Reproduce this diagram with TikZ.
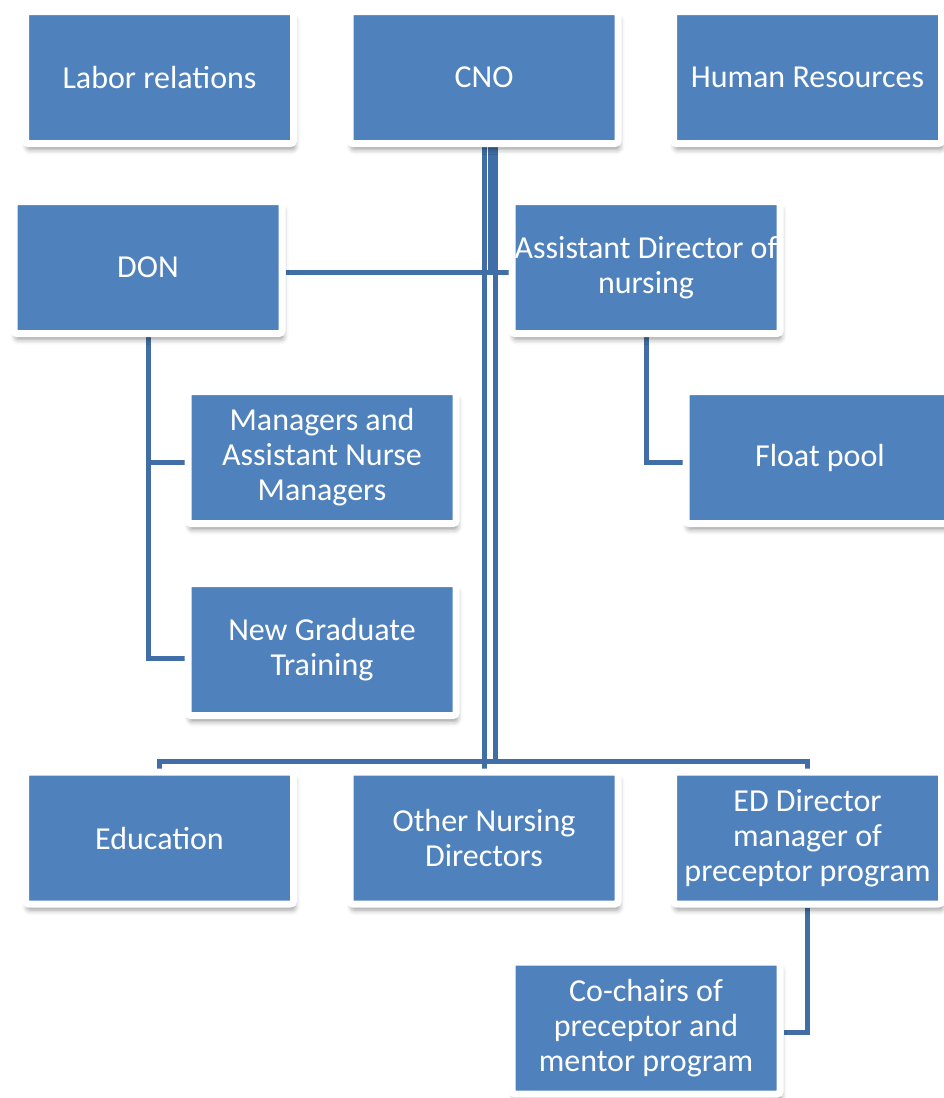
\documentclass[tikz,border=0pt]{standalone}
\usepackage{fontspec}
\setmainfont{Carlito}
\usetikzlibrary{shadows.blur,backgrounds,calc}
\definecolor{boxblue}{HTML}{4F81BD}
\definecolor{linkblue}{HTML}{416EA6}
\tikzset{
  orgbox/.style={fill=boxblue, draw=white, line width=7pt, rounded corners=3pt,
    minimum width=268pt, minimum height=132pt, inner sep=0pt, align=center,
    text=white, font=\fontsize{32}{35}\selectfont,
    blur shadow={shadow xshift=1.5pt, shadow yshift=-6pt, shadow blur radius=5pt, shadow opacity=40}},
  link/.style={draw=linkblue, line width=5pt}
}
\begin{document}
\begin{tikzpicture}[x=1pt,y=-1pt]
\useasboundingbox (0,0) rectangle (943,1098);
\node[orgbox] (lab) at (159.5,77.5) {Labor relations};
\node[orgbox] (cno) at (484,77.5) {CNO};
\node[orgbox] (hr) at (807.5,77.5) {Human Resources};
\node[orgbox] (don) at (148,267.5) {DON};
\node[orgbox] (adn) at (646,267.5) {Assistant Director of\\nursing};
\node[orgbox] (mgr) at (322,457.5) {Managers and\\Assistant Nurse\\Managers};
\node[orgbox] (flt) at (820,457.5) {Float pool};
\node[orgbox] (ngt) at (322,649.5) {New Graduate\\Training};
\node[orgbox] (edu) at (159.5,838) {Education};
\node[orgbox] (oth) at (484,838) {Other Nursing\\Directors};
\node[orgbox] (edd) at (807.5,838) {ED Director\\manager of\\preceptor program};
\node[orgbox] (coc) at (646,1028) {Co-chairs of\\preceptor and\\mentor program};
\coordinate (busL) at ($(edu.north)+(0,-7)$);
\coordinate (midL) at ($(don.east)+(0,4.5)$);
\begin{pgfonlayer}{background}
\draw[link] (cno.south) -- (oth.north);
\draw[link] ([xshift=6pt]cno.south) -- ([xshift=6pt]cno.south |- midL);
\draw[link] (midL) -- ([yshift=-4.5pt]adn.west);
\draw[link] ([xshift=11pt]cno.south) -- ([xshift=11pt]cno.south |- busL);
\draw[link] (edu.north) -- (busL) -| (edd.north);
\draw[link] (don.south) |- ([yshift=-5pt]mgr.west);
\draw[link] (don.south) |- ([yshift=-9pt]ngt.west);
\draw[link] (adn.south) |- ([yshift=-4.5pt]flt.west);
\draw[link] (edd.south) |- ([yshift=-4pt]coc.east);
\end{pgfonlayer}
\end{tikzpicture}
\end{document}
